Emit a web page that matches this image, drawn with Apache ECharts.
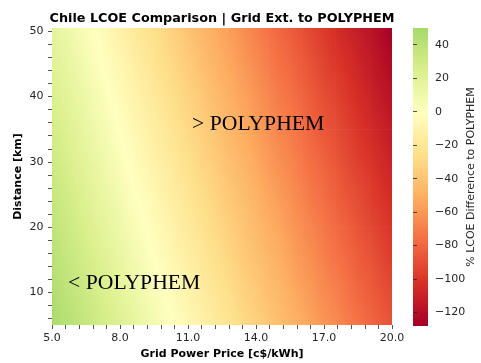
<!DOCTYPE html>
<html><head><meta charset="utf-8">
<script src="https://cdn.jsdelivr.net/npm/echarts@6/dist/echarts.min.js"></script>
<style>html,body{margin:0;padding:0;background:#fff}#c{width:481px;height:363px}</style>
</head><body><div id="c"></div>
<script>
const TITLE = 'Chile LCOE Comparison | Grid Ext. to POLYPHEM';
const X_NAME = 'Grid Power Price [c$/kWh]';
const Y_NAME = 'Distance [km]';
const CB_NAME = '% LCOE Difference to POLYPHEM';
const NOTE_HIGH = '> POLYPHEM';
const NOTE_LOW = '< POLYPHEM';

// grid power price columns [c$/kWh]
const PRICES = [5,5.5,6,6.5,7,7.5,8,8.5,9,9.5,10,10.5,11,11.5,12,12.5,13,13.5,14,14.5,15,15.5,16,16.5,17,17.5,18,18.5,19,19.5,20];
// distance rows [km]
const DISTANCES = [5,10,15,20,25,30,35,40,45,50];
// % LCOE difference, one row per distance
const V_D5  = [49,44,40,35,31,26,22,17,12,8,3,-1,-6,-10,-15,-20,-24,-29,-33,-38,-42,-47,-51,-56,-61,-65,-70,-74,-79,-83,-88];
const V_D10 = [46,41,36,32,27,23,18,13,9,4,0,-5,-10,-14,-19,-23,-28,-33,-37,-42,-46,-51,-56,-60,-65,-69,-74,-79,-83,-88,-92];
const V_D15 = [42,37,33,28,24,19,14,10,5,0,-4,-9,-13,-18,-23,-27,-32,-37,-41,-46,-50,-55,-60,-64,-69,-74,-78,-83,-87,-92,-97];
const V_D20 = [39,34,29,25,20,15,11,6,1,-3,-8,-13,-17,-22,-27,-31,-36,-40,-45,-50,-54,-59,-64,-68,-73,-78,-82,-87,-92,-96,-101];
const V_D25 = [35,31,26,21,16,12,7,2,-2,-7,-12,-16,-21,-26,-30,-35,-40,-44,-49,-54,-58,-63,-68,-73,-77,-82,-87,-91,-96,-101,-105];
const V_D30 = [32,27,22,18,13,8,3,-1,-6,-11,-15,-20,-25,-30,-34,-39,-44,-48,-53,-58,-63,-67,-72,-77,-81,-86,-91,-96,-100,-105,-110];
const V_D35 = [28,24,19,14,9,5,0,-5,-10,-14,-19,-24,-29,-33,-38,-43,-48,-52,-57,-62,-67,-71,-76,-81,-86,-90,-95,-100,-105,-109,-114];
const V_D40 = [25,20,15,11,6,1,-4,-9,-13,-18,-23,-28,-32,-37,-42,-47,-52,-56,-61,-66,-71,-75,-80,-85,-90,-94,-99,-104,-109,-114,-118];
const V_D45 = [21,17,12,7,2,-3,-7,-12,-17,-22,-27,-31,-36,-41,-46,-51,-55,-60,-65,-70,-75,-79,-84,-89,-94,-99,-103,-108,-113,-118,-123];
const V_D50 = [18,13,8,4,-1,-6,-11,-16,-21,-25,-30,-35,-40,-45,-50,-54,-59,-64,-69,-74,-79,-83,-88,-93,-98,-103,-108,-112,-117,-122,-127];
const VALUE_ROWS = [V_D5,V_D10,V_D15,V_D20,V_D25,V_D30,V_D35,V_D40,V_D45,V_D50];

// ticks and labels
const X_TICKS = [5.0,5.6,6.2,6.8,7.4,8.0,8.6,9.2,9.8,10.4,11.0,11.6,12.2,12.8,13.4,14.0,14.6,15.2,15.8,16.4,17.0,17.6,18.2,18.8,19.4,20.0];
const X_LABELS = [5,8,11,14,17,20];
const Y_TICKS = [6,8,10,12,14,16,18,20,22,24,26,28,30,32,34,36,38,40,42,44,46,48,50];
const Y_LABELS = [10,20,30,40,50];
const CB_TICKS = [40,20,0,-20,-40,-60,-80,-100,-120];
const CB_MIN = -128, CB_MAX = 50;
const Y_MIN = 5, Y_MAX = 50.5;

// RdYlGn anchor colours (lower part), spread evenly over COLOR_MIN..COLOR_MAX
const COLORS = ['#a50026','#d73027','#f46d43','#fdae61','#fee08b','#ffffbf','#d9ef8b','#a6d96a'];
const COLOR_MIN = -128, COLOR_MAX = 51.2;

const RGB = COLORS.map(h => [1, 3, 5].map(k => parseInt(h.substr(k, 2), 16)));
function cmap(v) {
  const n = RGB.length - 1;
  let t = (v - COLOR_MIN) / (COLOR_MAX - COLOR_MIN) * n;
  t = Math.max(0, Math.min(n, t));
  const i = Math.min(n - 1, Math.floor(t)), f = t - i;
  const a = RGB[i], b = RGB[i + 1];
  return 'rgb(' + a.map((c, k) => Math.round(c + (b[k] - c) * f)).join(',') + ')';
}

// one drawn cell between four neighbouring read points
const cells = [];
for (let j = 0; j < DISTANCES.length - 1; j++) {
  for (let i = 0; i < PRICES.length - 1; i++) {
    cells.push([PRICES[i], PRICES[i + 1], DISTANCES[j], DISTANCES[j + 1],
      VALUE_ROWS[j][i], VALUE_ROWS[j][i + 1], VALUE_ROWS[j + 1][i], VALUE_ROWS[j + 1][i + 1]]);
  }
}

const stops = COLORS.map((c, i) => {
  const v = COLOR_MIN + i * (COLOR_MAX - COLOR_MIN) / (COLORS.length - 1);
  return { offset: Math.min(1, (v - CB_MIN) / (CB_MAX - CB_MIN)), color: c };
});

const FONT = 'DejaVu Sans';
const TXT = '#262626';
const minus = v => String(v).replace('-', '\u2212');

// layout (pixels)
const PLOT = { left: 52, top: 28, width: 340, height: 297 };
const CBAR = { left: 413, top: 28, width: 15, height: 298 };

function renderCell(params, api) {
  const p0 = api.value(0), p1 = api.value(1), d0 = api.value(2), d1 = api.value(3);
  const v00 = api.value(4), v10 = api.value(5), v01 = api.value(6), v11 = api.value(7);
  const yb = d0 === DISTANCES[0] ? Y_MIN : d0;
  const yt = d1 === DISTANCES[DISTANCES.length - 1] ? Y_MAX : d1;
  const A = api.coord([p0, d0]), B = api.coord([p1, d1]);
  const TL = api.coord([p0, yt]), BR = api.coord([p1, yb]);
  const cs = params.coordSys;
  const r = echarts.graphic.clipRectByRect(
    { x: TL[0], y: TL[1], width: BR[0] - TL[0] + 0.6, height: BR[1] - TL[1] + 0.6 },
    { x: cs.x, y: cs.y, width: cs.width, height: cs.height });
  if (!r) return null;
  const W = B[0] - A[0], H = B[1] - A[1];
  const gx = ((v10 - v00) + (v11 - v01)) / 2 / W;
  const gy = ((v01 - v00) + (v11 - v10)) / 2 / H;
  const xc = (A[0] + B[0]) / 2, yc = (A[1] + B[1]) / 2, vc = (v00 + v10 + v01 + v11) / 4;
  const g = Math.hypot(gx, gy);
  let fill;
  if (g < 1e-9) {
    fill = cmap(vc);
  } else {
    const ux = gx / g, uy = gy / g;
    const k = Math.max(...[[r.x, r.y], [r.x + r.width, r.y], [r.x, r.y + r.height], [r.x + r.width, r.y + r.height]]
      .map(q => Math.hypot(q[0] - xc, q[1] - yc))) + 1;
    const vs = vc - k * g, ve = vc + k * g, N = 12;
    const cstops = [];
    for (let s = 0; s <= N; s++) cstops.push({ offset: s / N, color: cmap(vs + (ve - vs) * s / N) });
    fill = { type: 'linear', x: xc - k * ux, y: yc - k * uy, x2: xc + k * ux, y2: yc + k * uy, global: true, colorStops: cstops };
  }
  return { type: 'rect', shape: r, style: { fill: fill } };
}

const chart = echarts.init(document.getElementById('c'), null, { renderer: 'canvas' });
chart.setOption({
  animation: false,
  backgroundColor: '#fff',
  textStyle: { fontFamily: FONT },
  title: {
    text: TITLE, left: 217, top: 7, textAlign: 'center',
    textStyle: { fontFamily: FONT, fontWeight: 'bold', fontSize: 12.8, color: '#000' }
  },
  grid: [
    Object.assign({ show: false, containLabel: false, outerBoundsMode: 'none' }, PLOT),
    Object.assign({ show: true, borderWidth: 0, containLabel: false, outerBoundsMode: 'none',
      backgroundColor: { type: 'linear', x: 0, y: 1, x2: 0, y2: 0, colorStops: stops } }, CBAR)
  ],
  xAxis: [
    { type: 'value', gridIndex: 0, min: 5, max: 20,
      axisLine: { show: false },
      axisTick: { show: true, customValues: X_TICKS, length: 4, lineStyle: { color: TXT, width: 0.8 } },
      axisLabel: { customValues: X_LABELS, formatter: v => v.toFixed(1), fontSize: 11, color: TXT, margin: 8, fontFamily: FONT },
      splitLine: { show: false } },
    { type: 'value', gridIndex: 1, min: 0, max: 1, show: false }
  ],
  yAxis: [
    { type: 'value', gridIndex: 0, min: Y_MIN, max: Y_MAX,
      axisLine: { show: false },
      axisTick: { show: true, customValues: Y_TICKS, length: 4, lineStyle: { color: TXT, width: 0.8 } },
      axisLabel: { customValues: Y_LABELS, formatter: v => String(Math.round(v)), fontSize: 11, color: TXT, margin: 8.5, fontFamily: FONT },
      splitLine: { show: false } },
    { type: 'value', gridIndex: 1, position: 'right', min: CB_MIN, max: CB_MAX,
      axisLine: { show: false },
      axisTick: { show: true, customValues: CB_TICKS, length: 4, lineStyle: { color: TXT, width: 0.8 } },
      axisLabel: { customValues: CB_TICKS, formatter: v => minus(Math.round(v)), fontSize: 11, color: TXT, margin: 7, fontFamily: FONT },
      splitLine: { show: false } }
  ],
  series: [{
    type: 'custom', xAxisIndex: 0, yAxisIndex: 0, clip: true,
    data: cells,
    renderItem: renderCell
  }],
  graphic: [
    { type: 'text', x: PLOT.left + PLOT.width / 2, y: 354, z: 100,
      style: { text: X_NAME, fontFamily: FONT, fontWeight: 'bold', fontSize: 11, fill: '#000', align: 'center', verticalAlign: 'middle' } },
    { type: 'text', x: 18.5, y: PLOT.top + PLOT.height / 2, rotation: Math.PI / 2, z: 100,
      style: { text: Y_NAME, fontFamily: FONT, fontWeight: 'bold', fontSize: 11, fill: '#000', align: 'center', verticalAlign: 'middle' } },
    { type: 'text', x: 471, y: CBAR.top + CBAR.height / 2, rotation: Math.PI / 2, z: 100,
      style: { text: CB_NAME, fontFamily: FONT, fontSize: 11, fill: TXT, align: 'center', verticalAlign: 'middle' } },
    { type: 'text', x: 192, y: 124, z: 100, zlevel: 1,
      style: { text: NOTE_HIGH, fontFamily: 'Liberation Serif', fontSize: 21.7, fill: '#000', verticalAlign: 'middle', align: 'left' } },
    { type: 'text', x: 68, y: 283, z: 100, zlevel: 1,
      style: { text: NOTE_LOW, fontFamily: 'Liberation Serif', fontSize: 21.7, fill: '#000', verticalAlign: 'middle', align: 'left' } }
  ]
});
</script></body></html>
